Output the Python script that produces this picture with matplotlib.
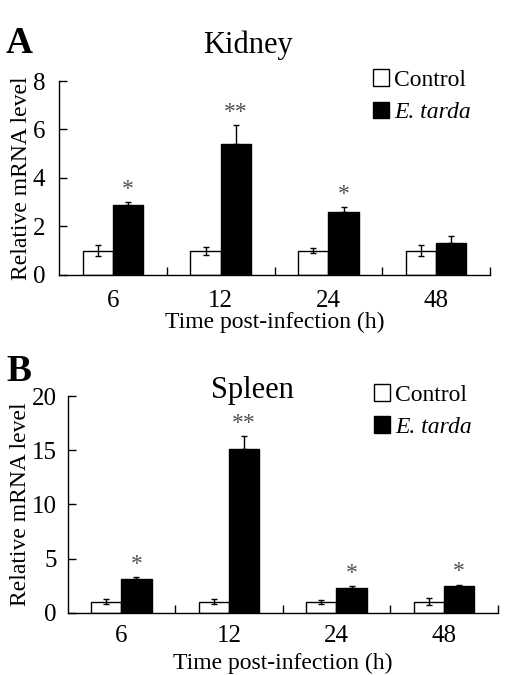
import matplotlib.pyplot as plt
import numpy as np

plt.rcParams['font.family'] = ['Liberation Serif', 'DejaVu Serif']

hours = ['6', '12', '24', '48']

# Kidney
kid_ctrl = [1.0, 1.0, 1.0, 1.0]
kid_ctrl_err = [0.22, 0.17, 0.10, 0.22]
kid_inf = [2.89, 5.40, 2.61, 1.31]
kid_inf_err = [0.13, 0.79, 0.18, 0.30]
kid_sig = ['*', '**', '*', '']

# Spleen
spl_ctrl = [1.02, 1.02, 1.02, 1.02]
spl_ctrl_err = [0.25, 0.20, 0.18, 0.30]
spl_inf = [3.11, 15.08, 2.28, 2.50]
spl_inf_err = [0.20, 1.25, 0.18, 0.10]
spl_sig = ['*', '**', '*', '*']

fig = plt.figure(figsize=(5.1, 6.75), dpi=100)
axA = fig.add_axes([0.1157, 0.5926, 0.8453, 0.2874])
axB = fig.add_axes([0.1327, 0.0923, 0.8433, 0.3210])

w = 0.28
x = np.arange(len(hours)) + 0.5


def draw(ax, ctrl, ctrl_err, inf, inf_err, sig, ymax, ystep, star_off,
         leg_xy, xpad, ypad, xlab_pad, ylab_pad):
    ax.bar(x - w / 2, ctrl, w, color='white', edgecolor='black', linewidth=1, label='Control')
    ax.bar(x + w / 2, inf, w, color='black', edgecolor='black', linewidth=1, label='E. tarda')
    ax.errorbar(x - w / 2, ctrl, yerr=ctrl_err, fmt='none', ecolor='black',
                elinewidth=1, capsize=2.5, capthick=1)
    ax.errorbar(x + w / 2, inf, yerr=[np.zeros(len(inf)), inf_err], fmt='none',
                ecolor='black', elinewidth=1, capsize=2.5, capthick=1)
    for xi, v, e, s in zip(x + w / 2, inf, inf_err, sig):
        if s:
            ax.text(xi, v + e + star_off, s, ha='center', va='bottom',
                    fontsize=17, color='#505050')
    ax.set_xlim(0, len(hours))
    ax.set_ylim(0, ymax)
    ax.set_yticks(np.arange(0, ymax + 0.01, ystep))
    ax.set_xticks(np.arange(1, len(hours) + 1))
    ax.set_xticklabels([])
    ax.set_xticks(x, minor=True)
    ax.set_xticklabels(hours, minor=True)
    ax.tick_params(axis='x', which='minor', length=0, labelsize=18, pad=xpad)
    ax.tick_params(axis='x', which='major', direction='in', length=6, width=1)
    ax.tick_params(axis='y', direction='in', length=6, width=1, labelsize=18, pad=ypad)
    for sp in ['top', 'right']:
        ax.spines[sp].set_visible(False)
    for sp in ['left', 'bottom']:
        ax.spines[sp].set_linewidth(1)
    ax.set_xlabel('Time post-infection (h)', fontsize=17, labelpad=xlab_pad)
    ax.set_ylabel('Relative mRNA level', fontsize=17, labelpad=ylab_pad)
    leg = ax.legend(loc='upper right', bbox_to_anchor=leg_xy, frameon=False,
                    fontsize=17, handlelength=0.7, handleheight=0.7,
                    handletextpad=0.2, labelspacing=0.45, borderaxespad=0,
                    borderpad=0)
    leg.get_texts()[1].set_fontstyle('italic')


draw(axA, kid_ctrl, kid_ctrl_err, kid_inf, kid_inf_err, kid_sig, 8, 2, 0.08,
     (0.955, 1.06), 11, 10, 0, 0.5)
draw(axB, spl_ctrl, spl_ctrl_err, spl_inf, spl_inf_err, spl_sig, 20, 5, 0.2,
     (0.94, 1.055), 9, 8, 4, 0.5)

fig.text(0.486, 0.933, 'Kidney', ha='center', va='center', fontsize=22)
fig.text(0.494, 0.422, 'Spleen', ha='center', va='center', fontsize=22)
fig.text(0.012, 0.935, 'A', ha='left', va='center', fontsize=27, fontweight='bold')
fig.text(0.012, 0.450, 'B', ha='left', va='center', fontsize=27, fontweight='bold')

fig.savefig('out.png', dpi=100)
